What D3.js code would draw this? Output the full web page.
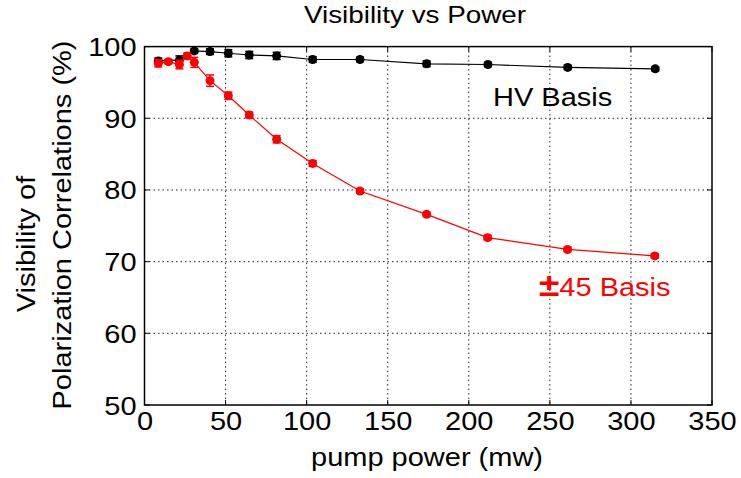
<!DOCTYPE html>
<html>
<head>
<meta charset="utf-8">
<script src="https://cdn.jsdelivr.net/npm/d3@7/dist/d3.min.js"></script>
<style>
  html, body { margin: 0; padding: 0; background: #fff; }
  svg text { font-family: "Liberation Sans", Arial, sans-serif; }
</style>
</head>
<body>
<svg id="chart" width="741" height="478"></svg>
<script>
// ---- data ----
const hvPower = [8.5, 21.5, 30.7, 40.4, 51.7, 64.6, 81.5, 103.7, 132.9, 174, 211.8, 261, 315];
const hvVis   = [98.0, 98.1, 99.4, 99.3, 99.07, 98.83, 98.7, 98.2, 98.2, 97.6, 97.5, 97.1, 96.9];
const hvErr   = [0.4, 0.6, 0.3, 0.4, 0.5, 0.5, 0.5, 0.4, 0.3, 0.4, 0.3, 0.3, 0.3];

const pmPower = [8.5, 14.7, 21.5, 26.4, 30.7, 40.4, 51.7, 64.6, 81.5, 103.7, 132.9, 174, 211.6, 260.9, 314.7];
const pmVis   = [97.67, 97.9, 97.5, 98.7, 97.8, 95.25, 93.15, 90.46, 87.07, 83.7, 79.86, 76.6, 73.35, 71.7, 70.8];
const pmErr   = [0.5, 0.3, 0.6, 0.4, 0.7, 0.8, 0.5, 0.4, 0.5, 0.4, 0.3, 0.3, 0.3, 0.3, 0.3];

const xTicks = [0, 50, 100, 150, 200, 250, 300, 350];
const yTicks = [50, 60, 70, 80, 90, 100];

const titleText = "Visibility vs Power";
const xLabel = "pump power (mw)";
const yLabel1 = "Visibility of";
const yLabel2 = "Polarization Correlations (%)";
const hvLabel = "HV Basis";
const pmSign = "\u00B1";
const pmLabel = "45 Basis";

// ---- layout ----
const SX = 1.16; // horizontal stretch of text to match reference glyph widths
const svg = d3.select("#chart");
const L = 144.5, R = 712, T = 46.6, B = 405;
const x = d3.scaleLinear().domain([0, 350]).range([L, R]);
const y = d3.scaleLinear().domain([50, 100]).range([B, T]);

// grid
const grid = svg.append("g");
grid.selectAll("line.gx").data(xTicks.filter(d => d > 0 && d < 350)).enter()
  .append("line").attr("x1", d => x(d)).attr("x2", d => x(d)).attr("y1", T).attr("y2", B)
  .attr("stroke", "#222").attr("stroke-width", 1).attr("stroke-dasharray", "1.5,3");
grid.selectAll("line.gy").data(yTicks.filter(d => d > 50 && d < 100)).enter()
  .append("line").attr("y1", d => y(d)).attr("y2", d => y(d)).attr("x1", L).attr("x2", R)
  .attr("stroke", "#222").attr("stroke-width", 1).attr("stroke-dasharray", "1.5,3");

// axes
const xAxis = d3.axisBottom(x).tickValues(xTicks).tickSize(0).tickPadding(5);
const yAxis = d3.axisLeft(y).tickValues(yTicks).tickSize(0).tickPadding(8);
const gx = svg.append("g").attr("transform", `translate(0,${B})`).call(xAxis);
const gy = svg.append("g").attr("transform", `translate(${L},0)`).call(yAxis);
[gx, gy].forEach(g => {
  g.select(".domain").remove();
  g.selectAll("text").attr("fill", "#000").style("font-size", "25px")
    .attr("font-family", "Liberation Sans, Arial, sans-serif");
});
gx.selectAll("text").attr("dy", "0.82em").attr("transform", `scale(${SX},1)`);
gy.selectAll("text").attr("dy", "0.36em").attr("x", -8 / SX).attr("transform", `scale(${SX},1)`);

// inward ticks
const tk = svg.append("g").attr("stroke", "#000").attr("stroke-width", 1);
xTicks.forEach(d => {
  tk.append("line").attr("x1", x(d)).attr("x2", x(d)).attr("y1", B).attr("y2", B - 5);
  tk.append("line").attr("x1", x(d)).attr("x2", x(d)).attr("y1", T).attr("y2", T + 5);
});
yTicks.forEach(d => {
  tk.append("line").attr("x1", L).attr("x2", L + 5).attr("y1", y(d)).attr("y2", y(d));
  tk.append("line").attr("x1", R).attr("x2", R - 5).attr("y1", y(d)).attr("y2", y(d));
});

// frame
svg.append("rect").attr("x", L).attr("y", T).attr("width", R - L).attr("height", B - T)
  .attr("fill", "none").attr("stroke", "#000").attr("stroke-width", 1.5);

// series
function drawSeries(px, vy, err, color) {
  const g = svg.append("g");
  const pts = px.map((p, i) => ({ p, v: vy[i], e: err[i] }));
  g.append("path").datum(pts)
    .attr("d", d3.line().x(d => x(d.p)).y(d => y(d.v)))
    .attr("fill", "none").attr("stroke", color).attr("stroke-width", 1.2);
  const eb = g.selectAll("g.eb").data(pts).enter().append("g")
    .attr("stroke", color).attr("stroke-width", 1.5);
  eb.append("line").attr("x1", d => x(d.p)).attr("x2", d => x(d.p))
    .attr("y1", d => y(d.v - d.e)).attr("y2", d => y(d.v + d.e));
  eb.append("line").attr("x1", d => x(d.p) - 4).attr("x2", d => x(d.p) + 4)
    .attr("y1", d => y(d.v - d.e)).attr("y2", d => y(d.v - d.e));
  eb.append("line").attr("x1", d => x(d.p) - 4).attr("x2", d => x(d.p) + 4)
    .attr("y1", d => y(d.v + d.e)).attr("y2", d => y(d.v + d.e));
  g.selectAll("circle").data(pts).enter().append("circle")
    .attr("cx", d => x(d.p)).attr("cy", d => y(d.v)).attr("r", 4.5).attr("fill", color);
}
drawSeries(hvPower, hvVis, hvErr, "#000");
drawSeries(pmPower, pmVis, pmErr, "#ff0000");

// text helpers
function label(tx, ty, rot, anchor, size, color, str) {
  return svg.append("text")
    .attr("transform", `translate(${tx},${ty}) rotate(${rot}) scale(${SX},1)`)
    .attr("text-anchor", anchor).style("font-size", size + "px").attr("fill", color).text(str);
}
label(415, 23, 0, "middle", 24, "#000", titleText);
label(427, 466, 0, "middle", 25, "#000", xLabel);
label(35, 244, -90, "middle", 25, "#000", yLabel1);
label(71, 225, -90, "middle", 25, "#000", yLabel2);
label(493, 106, 0, "start", 25, "#000", hvLabel);
const pm = svg.append("text")
  .attr("transform", `translate(539,296) scale(${SX},1)`)
  .attr("fill", "#ff0000");
pm.append("tspan").style("font-size", "32px").attr("font-weight", "bold").text(pmSign);
pm.append("tspan").style("font-size", "25px").text(pmLabel);
</script>
</body>
</html>
